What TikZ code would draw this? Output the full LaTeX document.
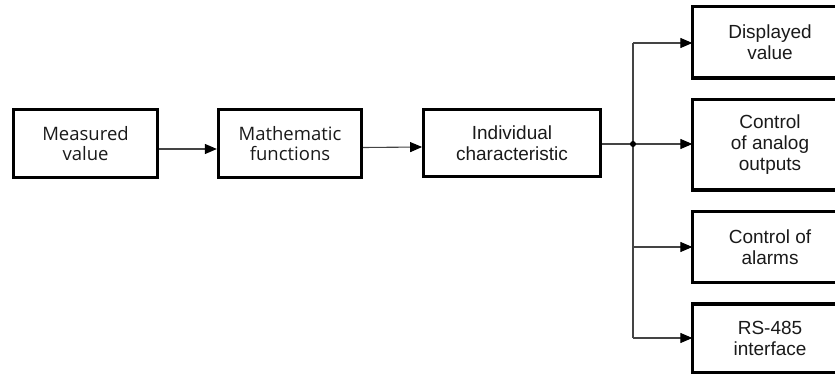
\documentclass[tikz,border=0pt]{standalone}
\usepackage{fontspec}
\setmainfont{Liberation Sans}
\newfontfamily\humfont{Open Sans}
\usetikzlibrary{arrows.meta}
\definecolor{txt}{HTML}{1A1A1A}
\definecolor{ln}{HTML}{444444}
\tikzset{
  blk/.style={draw=black, line width=3.3pt, align=center, inner sep=0pt, text=txt,
    font=\fontsize{19}{21}\selectfont},
  humblk/.style={blk, font=\humfont\fontsize{18.5}{20.5}\selectfont},
  outblk/.style={blk, draw=none, minimum width=152pt},
  conn/.style={draw=ln, line width=1.1pt, -{Triangle[length=12pt,width=10pt,color=black]}},
  wire/.style={draw=ln, line width=1.1pt},
  frame/.style={draw=black, line width=3.3pt},
}
\begin{document}
\begin{tikzpicture}[x=1pt,y=-1pt]
\useasboundingbox (0,0) rectangle (835,374);
\clip (0,0) rectangle (835,374);
\node[humblk, minimum width=144pt, minimum height=68pt] (m) at (85.5,143.5) {Measured\\value};
\node[humblk, minimum width=143pt, minimum height=68pt] (f) at (290,143.5) {Mathematic\\functions};
\node[blk, line width=2.8pt, minimum width=177pt, minimum height=67pt] (ic) at (512,143) {Individual\\characteristic};
\node[outblk, minimum height=68pt] (d) at (770,42.5) {Displayed\\value};
\node[outblk, minimum height=87pt] (c) at (770,145) {Control\\of analog\\outputs};
\node[outblk, minimum height=67pt] (a) at (770,247) {Control of\\alarms};
\node[outblk, minimum height=65pt] (r) at (770,338) {RS-485\\interface};
\foreach \b in {d,c,a,r}
  \draw[frame] (\b.north west) rectangle ([xshift=30pt]\b.south east);
\coordinate (j) at (633,144);
\coordinate (jt) at (633,43);
\coordinate (jb) at (633,338);
\draw[conn] ([yshift=-5.5pt]m.east) -- ([yshift=-5.5pt]f.west);
\draw[conn] ([yshift=-4pt]f.east) -- ([yshift=-4pt]ic.west);
\draw[wire] (ic.east |- j) -- (j);
\draw[wire] (jt) -- (jb);
\draw[conn] (jt) -- (jt -| d.west);
\draw[conn] (j) -- (j -| c.west);
\draw[conn] (j |- a) -- (a.west);
\draw[conn] (jb) -- (jb -| r.west);
\fill[black] (j) circle (3pt);
\end{tikzpicture}
\end{document}
